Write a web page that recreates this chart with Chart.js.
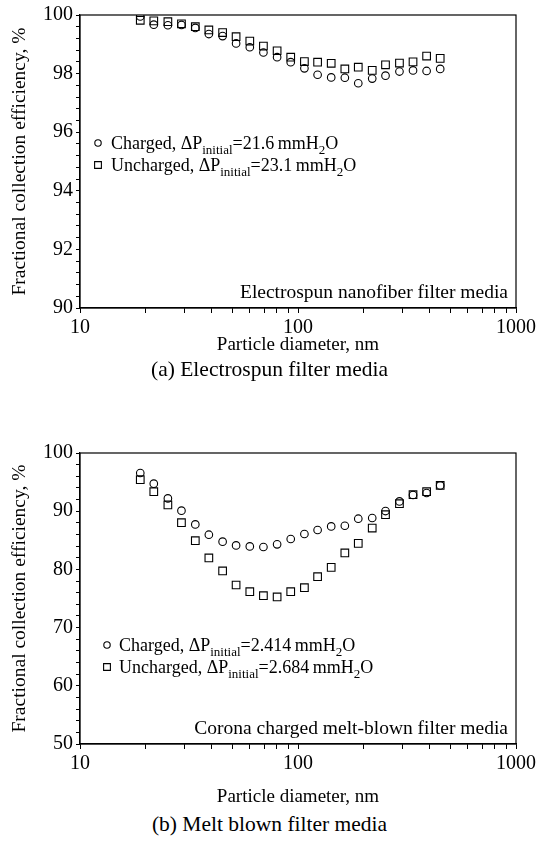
<!DOCTYPE html>
<html>
<head>
<meta charset="utf-8">
<script src="https://cdn.jsdelivr.net/npm/chart.js@4/dist/chart.umd.min.js"></script>
<style>
  body { margin: 0; background: #fff; width: 539px; height: 843px; position: relative; font-family: "Liberation Serif", "Times New Roman", serif; }
  canvas { position: absolute; left: 0; }
  .caption { position: absolute; left: 0; width: 539px; text-align: center; font-size: 21.5px; line-height: 24px; color: #000; }
</style>
</head>
<body>
<canvas id="chartA" width="539" height="358" style="top:0"></canvas>
<div class="caption" style="top:357px">(a) Electrospun filter media</div>
<canvas id="chartB" width="539" height="372" style="top:438px"></canvas>
<div class="caption" style="top:812px">(b) Melt blown filter media</div>

<script>
// Particle mobility diameters (nm), shared by both panels
const diameters = [18.9, 21.8, 25.3, 29.2, 33.8, 39.0, 45.1, 52.0, 60.1, 69.4, 80.2, 92.6,
                   107, 123, 142, 164, 189, 219, 252, 292, 337, 389, 449];

// (a) Electrospun nanofiber media, efficiency %
const electroCharged = [99.95, 99.67, 99.65, 99.66, 99.56, 99.35, 99.28, 99.03, 98.90, 98.72, 98.56, 98.39,
                        98.18, 97.96, 97.87, 97.86, 97.67, 97.83, 97.93, 98.07, 98.11, 98.09, 98.16];
const electroUncharged = [99.82, 99.80, 99.77, 99.70, 99.60, 99.49, 99.40, 99.26, 99.11, 98.94, 98.78, 98.56,
                          98.41, 98.39, 98.35, 98.16, 98.22, 98.11, 98.30, 98.36, 98.40, 98.60, 98.52];

// (b) Corona charged melt-blown media, efficiency %
const meltCharged = [96.56, 94.73, 92.20, 90.09, 87.73, 85.96, 84.76, 84.12, 83.95, 83.85, 84.30, 85.22,
                     86.08, 86.77, 87.39, 87.50, 88.71, 88.83, 90.03, 91.68, 92.78, 93.13, 94.43];
const meltUncharged = [95.41, 93.35, 91.07, 88.02, 84.93, 81.96, 79.73, 77.32, 76.17, 75.48, 75.26, 76.17,
                       76.86, 78.75, 80.35, 82.82, 84.47, 87.11, 89.40, 91.29, 92.83, 93.35, 94.43];

// Axis ticks
const xMajorTicks = [10, 100, 1000];
const yTicksA = [90, 92, 94, 96, 98, 100];
const yTicksB = [50, 60, 70, 80, 90, 100];

const FONT = '"Liberation Serif", "Times New Roman", serif';

function xyPoints(ys) {
    return diameters.map((d, i) => ({ x: d, y: ys[i] }));
}

// log axis: ticks at every 1..9 x decade, labels only at decades
function logTickValues() {
    const vals = [];
    for (let dec = 10; dec < 1000; dec *= 10) {
        for (let m = 1; m < 10; m++) vals.push(m * dec);
    }
    vals.push(1000);
    return vals;
}

// linear axis: five minor divisions between labelled ticks
function minorTickValues(major) {
    const vals = [];
    const step = (major[1] - major[0]) / 5;
    for (let i = 0; i < major.length - 1; i++) {
        for (let k = 0; k < 5; k++) vals.push(+(major[i] + k * step).toFixed(4));
    }
    vals.push(major[major.length - 1]);
    return vals;
}

// text run with subscripts: parts = [[text, isSub], ...]
function drawRichText(ctx, x, y, parts, size) {
    let cx = x;
    parts.forEach(([txt, sub]) => {
        const fs = sub ? Math.round(size * 0.7) : size;
        ctx.font = fs + 'px ' + FONT;
        ctx.fillText(txt, cx, sub ? y + size * 0.3 : y);
        cx += ctx.measureText(txt).width;
    });
}

const figurePlugin = {
    id: 'figureDecor',
    afterDraw(chart, args, opts) {
        const { ctx, chartArea } = chart;
        ctx.save();
        // closed frame around the plot
        ctx.strokeStyle = '#000';
        ctx.lineWidth = 1.2;
        ctx.strokeRect(chartArea.left, chartArea.top, chartArea.right - chartArea.left, chartArea.bottom - chartArea.top);

        // legend rows: hollow symbol + label with subscripts
        ctx.textAlign = 'left';
        ctx.textBaseline = 'alphabetic';
        opts.legend.forEach((row, i) => {
            const ds = chart.data.datasets[i];
            const y = opts.legendY[i];
            ctx.fillStyle = 'rgba(0,0,0,0)';
            ctx.strokeStyle = '#000';
            ctx.lineWidth = 1.1;
            Chart.helpers.drawPoint(ctx, {
                pointStyle: ds.pointStyle,
                radius: row.symbolRadius,
                borderWidth: 1.1
            }, opts.symbolX, y);
            ctx.fillStyle = '#000';
            drawRichText(ctx, opts.textX, y + 6, row.parts, opts.legendSize);
        });

        // media label in lower right corner
        ctx.fillStyle = '#000';
        ctx.font = opts.noteSize + 'px ' + FONT;
        ctx.textAlign = 'right';
        ctx.fillText(opts.note, chartArea.right - 8, chartArea.bottom - 10);
        ctx.restore();
    }
};

function makeChart(canvasId, seriesC, seriesU, yTicks, legendRows, decor) {
    const yMin = yTicks[0];
    const yMax = yTicks[yTicks.length - 1];
    const canvasH = document.getElementById(canvasId).height;
    return new Chart(document.getElementById(canvasId), {
        type: 'scatter',
        data: {
            datasets: [{
                label: 'Charged',
                data: xyPoints(seriesC),
                pointStyle: 'circle',
                pointRadius: 3.8,
                borderColor: '#000',
                backgroundColor: 'rgba(0,0,0,0)',
                borderWidth: 1.1
            }, {
                label: 'Uncharged',
                data: xyPoints(seriesU),
                pointStyle: 'rect',
                pointRadius: 5.4,
                borderColor: '#000',
                backgroundColor: 'rgba(0,0,0,0)',
                borderWidth: 1.1
            }]
        },
        options: {
            responsive: false,
            animation: false,
            layout: { padding: { top: 15, right: 21, bottom: 0, left: 0 } },
            plugins: {
                legend: { display: false },
                tooltip: { enabled: false },
                figureDecor: Object.assign({ legend: legendRows }, decor)
            },
            scales: {
                x: {
                    type: 'logarithmic',
                    min: 10,
                    max: 1000,
                    afterBuildTicks: (scale) => { scale.ticks = logTickValues().map(v => ({ value: v })); },
                    afterFit: (scale) => { scale.height = canvasH - decor.plotBottom; },
                    ticks: {
                        autoSkip: false,
                        maxRotation: 0,
                        padding: 3,
                        color: '#000',
                        font: { family: FONT, size: 20 },
                        callback: (v) => xMajorTicks.includes(v) ? String(v) : ''
                    },
                    grid: { drawOnChartArea: false, tickLength: 5, tickColor: '#000', tickWidth: 1 },
                    border: { color: '#000', width: 1.2 },
                    title: {
                        display: true,
                        text: 'Particle diameter, nm',
                        color: '#000',
                        font: { family: FONT, size: 19 },
                        padding: { top: 0, bottom: 2 }
                    }
                },
                y: {
                    type: 'linear',
                    min: yMin,
                    max: yMax,
                    afterBuildTicks: (scale) => { scale.ticks = minorTickValues(yTicks).map(v => ({ value: v })); },
                    afterFit: (scale) => { scale.width = 80; },
                    ticks: {
                        autoSkip: false,
                        padding: 3,
                        color: '#000',
                        font: { family: FONT, size: 20 },
                        callback: (v) => yTicks.includes(v) ? String(v) : ''
                    },
                    grid: { drawOnChartArea: false, tickLength: 4, tickColor: '#000', tickWidth: 1 },
                    border: { color: '#000', width: 1.2 },
                    title: {
                        display: true,
                        text: 'Fractional collection efficiency, %',
                        color: '#000',
                        font: { family: FONT, size: 19.5 },
                        padding: { top: 8, bottom: 0 }
                    }
                }
            }
        },
        plugins: [figurePlugin]
    });
}

makeChart('chartA', electroCharged, electroUncharged, yTicksA, [
    { symbolRadius: 3.2, parts: [['Charged, \u0394P', false], ['initial', true], ['=21.6\u2009mmH', false], ['2', true], ['O', false]] },
    { symbolRadius: 4.8, parts: [['Uncharged, \u0394P', false], ['initial', true], ['=23.1\u2009mmH', false], ['2', true], ['O', false]] }
], {
    plotBottom: 308,
    symbolX: 98, textX: 111, legendY: [143, 165], legendSize: 18,
    note: 'Electrospun nanofiber filter media', noteSize: 19.5
});

makeChart('chartB', meltCharged, meltUncharged, yTicksB, [
    { symbolRadius: 3.2, parts: [['Charged, \u0394P', false], ['initial', true], ['=2.414\u2009mmH', false], ['2', true], ['O', false]] },
    { symbolRadius: 4.8, parts: [['Uncharged, \u0394P', false], ['initial', true], ['=2.684\u2009mmH', false], ['2', true], ['O', false]] }
], {
    plotBottom: 306,
    symbolX: 107, textX: 119, legendY: [207, 229], legendSize: 18,
    note: 'Corona charged melt-blown filter media', noteSize: 19.5
});
</script>
</body>
</html>
